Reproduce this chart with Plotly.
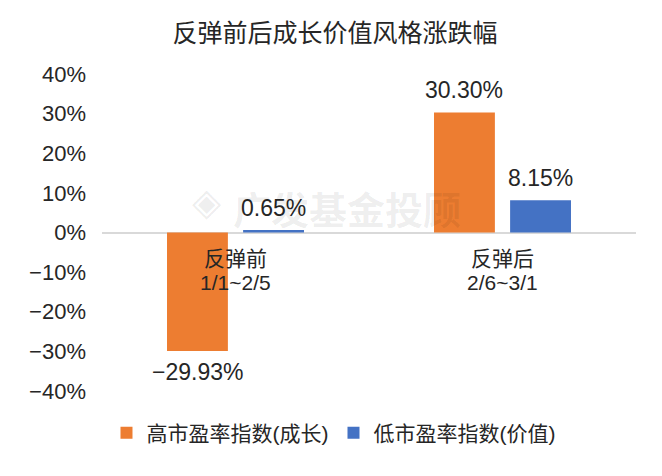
import plotly.graph_objects as go

categories = ["反弹前<br>1/1~2/5", "反弹后<br>2/6~3/1"]
series_names = ["高市盈率指数(成长)", "低市盈率指数(价值)"]
growth = [-29.93, 30.30]
value = [0.65, 8.15]
colors = ["#ED7D31", "#4472C4"]
title = "反弹前后成长价值风格涨跌幅"
watermark = "广发基金投顾"

FONT = "Liberation Sans, Noto Sans CJK SC, sans-serif"
TXT = "#262626"
BARGAP = 0.43
xs = list(range(len(categories)))
series = [growth, value]

fig = go.Figure()
for name, vals, col in zip(series_names, series, colors):
    fig.add_trace(go.Bar(x=xs, y=vals, name=name, marker_color=col,
                         marker_line_width=0))

# value labels above/below each bar
slot = (1 - BARGAP) / len(series)
for j, vals in enumerate(series):
    off = (j - (len(series) - 1) / 2) * slot
    for i, v in enumerate(vals):
        fig.add_annotation(x=i + off, y=v, xref="x", yref="y",
                           text=f"{v:.2f}%".replace("-", "\u2212"),
                           showarrow=False, yanchor="middle",
                           yshift=22 if v >= 0 else -21,
                           font=dict(size=23, color=TXT, family=FONT))

# category labels just under the zero line
for i, c in enumerate(categories):
    for k, line in enumerate(c.split("<br>")):
        fig.add_annotation(x=i, y=0, xref="x", yref="y", text=line, showarrow=False,
                           yanchor="middle", yshift=-26 - 24 * k,
                           font=dict(size=21, color=TXT, family=FONT))

# watermark
fig.add_annotation(x=(347 - 102) / (636 - 102), y=(391 - 178) / (391 - 74.5),
                   xref="paper", yref="paper", text="<b>" + watermark + "</b>",
                   showarrow=False, font=dict(size=38, color="rgba(0,0,0,0.075)",
                                              family="Noto Sans CJK SC"))
fig.add_annotation(x=(190 - 102) / (636 - 102), y=(391 - 178) / (391 - 74.5),
                   xref="paper", yref="paper", text="<b>◈</b>",
                   showarrow=False, font=dict(size=38, color="rgba(0,0,0,0.075)",
                                              family="DejaVu Sans"))

fig.update_layout(
    width=654, height=468,
    margin=dict(l=94, r=26, t=66, b=85),
    plot_bgcolor="white", paper_bgcolor="white",
    title=dict(text=title, x=0.5, xanchor="center", y=1 - 25 / 468, yanchor="middle",
               font=dict(size=25, color=TXT, family="Noto Sans CJK SC")),
    barmode="group", bargap=BARGAP, bargroupgap=0.2,
    font=dict(family=FONT, color=TXT),
    showlegend=True,
    legend=dict(orientation="h", x=0.4977, xanchor="center", xref="container",
                y=1 - 425 / 468, yanchor="middle", yref="container",
                font=dict(size=21, color=TXT, family=FONT),
                itemwidth=30, tracegroupgap=0),
    xaxis=dict(range=[-0.5, 1.5], showticklabels=False, showgrid=False,
               zeroline=False, showline=False, ticks="", automargin=False),
    yaxis=dict(range=[-40, 40], dtick=10, ticksuffix="%", showgrid=False,
               zeroline=True, zerolinecolor="#D9D9D9", zerolinewidth=1.5,
               tickfont=dict(size=22, color=TXT, family=FONT), ticks="",
               ticklabelstandoff=15, automargin=False),
)

fig.write_html("out.html")
